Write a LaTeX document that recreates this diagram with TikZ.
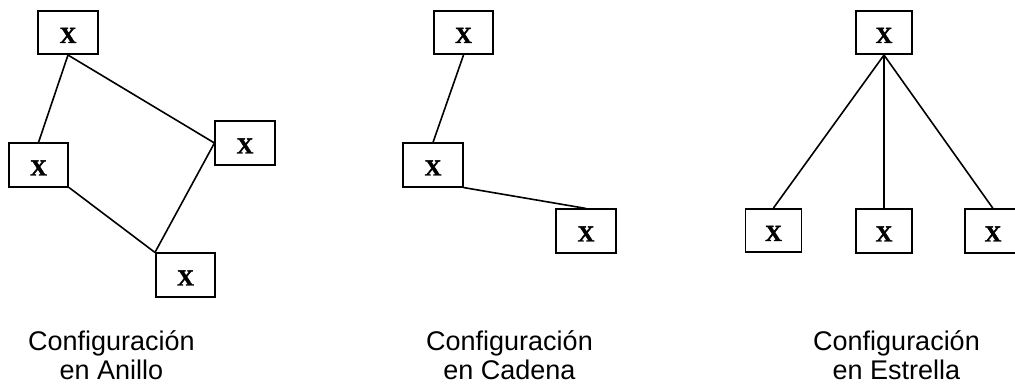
\documentclass[tikz,border=0pt]{standalone}
\usepackage{fontspec}
\newfontfamily\xbf{Liberation Serif}[BoldFeatures={FakeBold=2}]
\newfontfamily\arialf{Liberation Sans}
\begin{document}
\begin{tikzpicture}[x=1pt,y=-1pt,
  box/.style={draw,line width=1.6pt,minimum width=59.5pt,minimum height=43.5pt,inner sep=0pt,
    font=\xbf\bfseries\fontsize{23}{23}\selectfont,text height=21pt,text depth=0pt},
  nbox/.style={box,minimum width=56pt},
  link/.style={line width=1.6pt},
  captxt/.style={align=center,inner sep=0pt,font=\arialf\fontsize{27}{29}\selectfont}]
\useasboundingbox (0,0) rectangle (1015,387);
\clip (0,0) rectangle (1015,387);
% Anillo
\node[box] (a1) at (68,32.5) {X};
\node[box] (a2) at (38.5,165) {X};
\node[box] (a3) at (245,143) {X};
\node[box] (a4) at (185.5,275) {X};
\draw[link] (a1.south) -- (a2.north);
\draw[link] (a1.south) -- (a3.west);
\draw[link] (a2.south east) -- (a4.north west);
\draw[link] (a3.west) -- (a4.north west);
% Cadena
\node[box] (b1) at (463.5,32.5) {X};
\node[box] (b2) at (433,165) {X};
\node[box] (b3) at (586,231) {X};
\draw[link] (b1.south) -- (b2.north);
\draw[link] (b2.south east) -- (b3.north);
% Estrella
\node[nbox] (c1) at (884,32.5) {X};
\node[nbox] (c2) at (773.5,230.5) {X};
\node[nbox] (c3) at (884,231) {X};
\node[nbox] (c4) at (993,231) {X};
\draw[link] (c1.south) -- (c2.north);
\draw[link] (c1.south) -- (c3.north);
\draw[link] (c1.south) -- (c4.north);
% captions
\node[captxt] (ta) at (111.5,355) {Configuración\\en Anillo};
\node[captxt] (tb) at (509.5,355) {Configuración\\en Cadena};
\node[captxt] (tc) at (896.5,355) {Configuración\\en Estrella};
\end{tikzpicture}
\end{document}
